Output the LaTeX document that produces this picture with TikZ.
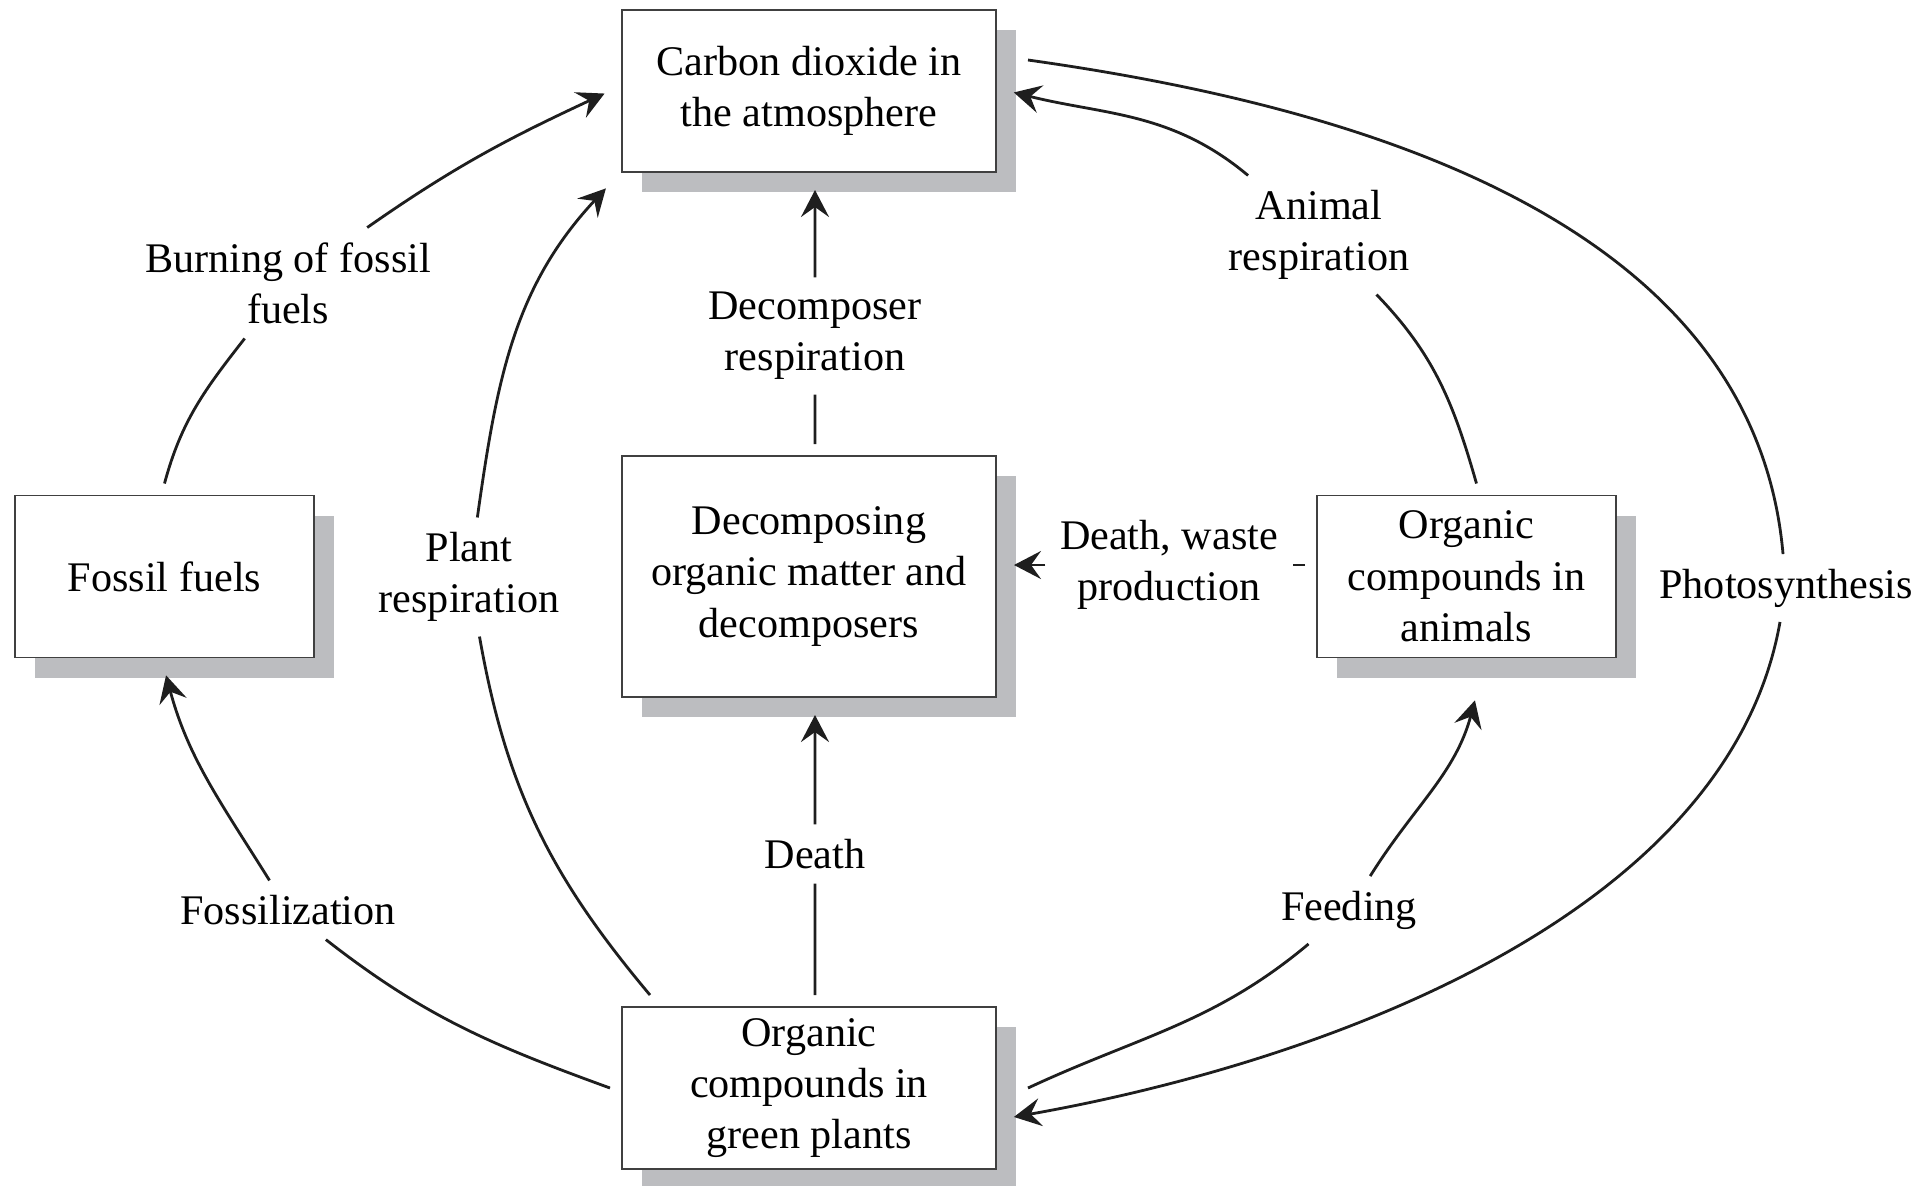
\documentclass[tikz,border=0pt]{standalone}
\usepackage{fontspec}
\setmainfont{Liberation Serif}
\usepackage{xcolor}
\usepackage{tikz}
\usetikzlibrary{positioning,arrows.meta,shadows}

\definecolor{shadowgray}{RGB}{188,189,192}
\definecolor{linegray}{RGB}{30,30,30}

\begin{document}
\begin{tikzpicture}[
  node distance=6mm,
  box/.style={draw=black!75, line width=0.5pt, fill=white, align=center, inner sep=0pt, outer sep=1.2mm,
    minimum width=3.74cm, minimum height=1.62cm, font=\fontsize{12}{14.6}\selectfont,
    drop shadow={shadow xshift=2mm, shadow yshift=-2mm, fill=shadowgray, opacity=1}},
  sbox/.style={box, minimum width=2.99cm},
  lbl/.style={align=center, inner sep=4pt, font=\fontsize{12}{14.6}\selectfont},
  arr/.style={-{Stealth[length=2.7mm, width=2.8mm, inset=1mm]}, line width=0.8pt, draw=linegray, shorten >=0.6mm},
]
\useasboundingbox (0,0) rectangle (19.21,-11.85);

\node[box] (co2) at (8.09,-0.91) {Carbon dioxide in\\the atmosphere};
\node[box, below=2.60cm of co2, minimum height=2.41cm] (decomp) {Decomposing\\organic matter and\\decomposers};
\node[box, below=2.86cm of decomp] (plants) {Organic\\compounds in\\green plants};
\node[sbox, left=2.84cm of decomp] (fossil) {Fossil fuels};
\node[sbox, right=2.97cm of decomp] (animals) {Organic\\compounds in\\animals};

\node[lbl] (lblBurn) at (2.88,-2.83) {Burning of fossil\\fuels};
\node[lbl] (lblPlant) at (4.69,-5.77) {Plant\\respiration};
\node[lbl] (lblFoss) at (2.88,-9.10) {Fossilization};
\node[lbl] (lblDecomp) at (8.15,-3.36) {Decomposer\\respiration};
\node[lbl] (lblDeath) at (8.15,-8.54) {Death};
\node[lbl] (lblWaste) at (11.69,-5.65) {Death, waste\\production};
\node[lbl] (lblAnim) at (13.19,-2.35) {Animal\\respiration};
\node[lbl] (lblFeed) at (13.49,-9.10) {Feeding};
\node[lbl] (lblPhoto) at (17.86,-5.88) {Photosynthesis};

\draw[arr] (fossil.north) to[out=75,in=-128] (lblBurn) to[out=35,in=-155] (co2.west);
\draw[arr] ([xshift=4mm]plants.north west) to[out=130,in=-80] (lblPlant) to[out=82,in=-133] (co2.south west);
\draw[arr] (plants.west) to[out=160,in=-38] (lblFoss) to[out=122,in=-75] (fossil.south);
\draw[arr] ([xshift=2mm]plants.east) to[out=25,in=-140] (lblFeed) to[out=58,in=-105] ([shift={(1mm,-2.5mm)}]animals.south);
\draw[arr] ([shift={(2mm,3.1mm)}]co2.east) to[out=-8,in=95,looseness=0.95] (lblPhoto) to[out=-100,in=10,looseness=0.85] ([yshift=-3mm]plants.east);
\draw[arr] ([xshift=1mm]animals.north) to[out=106,in=-46] (lblAnim) to[out=140,in=-14] (co2.east);
\draw[arr] ([xshift=0.6mm]decomp.north) -- (lblDecomp) -- ([xshift=0.6mm]co2.south);
\draw[arr] ([xshift=0.6mm]plants.north) -- (lblDeath) -- ([xshift=0.6mm]decomp.south);
\draw[arr] (lblWaste -| animals.west) -- (lblWaste) -- (lblWaste -| decomp.east);
\end{tikzpicture}
\end{document}
